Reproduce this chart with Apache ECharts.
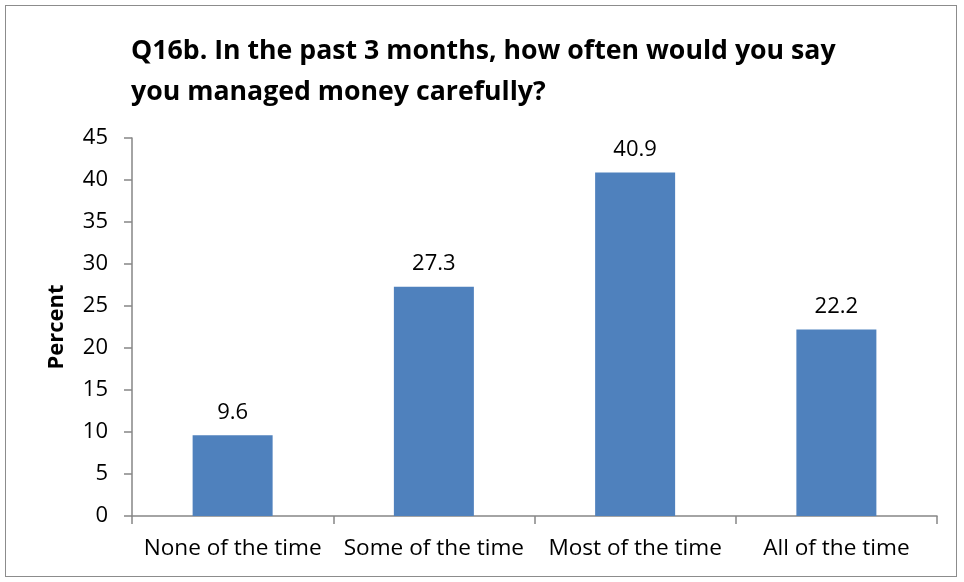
<!DOCTYPE html>
<html>
<head>
<meta charset="utf-8">
<script src="https://cdn.jsdelivr.net/npm/echarts@6/dist/echarts.min.js"></script>
<style>
  html, body { margin: 0; padding: 0; background: #fff; }
  #frame { position: absolute; left: 5px; top: 5px; width: 952px; height: 572px; border: 1px solid #8c8c8c; box-sizing: border-box; }
  #chart { position: absolute; left: 0; top: 0; width: 964px; height: 582px; }
</style>
</head>
<body>
<div id="frame"></div>
<div id="chart"></div>
<script>
  "use strict";

  const categories = ["None of the time", "Some of the time", "Most of the time", "All of the time"];
  const percents = [9.6, 27.3, 40.9, 22.2];
  const FONT = "'Open Sans', 'Noto Sans', sans-serif";
  const AXIS = "#868686";

  const chart = echarts.init(document.getElementById("chart"));
  chart.setOption({
    animation: false,
    textStyle: { fontFamily: FONT },
    title: {
      text: "Q16b. In the past 3 months, how often would you say\nyou managed money carefully?",
      left: 126,
      top: 26,
      textStyle: { fontSize: 26.7, fontWeight: "bold", color: "#000", lineHeight: 41, fontFamily: FONT },
    },
    grid: { left: 132, right: 27, top: 138, bottom: 66 },
    xAxis: {
      type: "category",
      data: categories,
      axisLine: { lineStyle: { color: AXIS, width: 1.5 } },
      axisTick: { show: true, length: 8, lineStyle: { color: AXIS, width: 1.5 } },
      axisLabel: { color: "#000", fontSize: 22.6, margin: 21, interval: 0 },
    },
    yAxis: {
      type: "value",
      min: 0,
      max: 45,
      interval: 5,
      name: "Percent",
      nameLocation: "middle",
      nameGap: 64,
      nameTextStyle: { color: "#000", fontSize: 22, fontWeight: "bold" },
      axisLine: { show: true, lineStyle: { color: AXIS, width: 1.5 } },
      axisTick: { show: true, length: 8, lineStyle: { color: AXIS, width: 1.5 } },
      splitLine: { show: false },
      axisLabel: { color: "#000", fontSize: 22, margin: 24 },
    },
    series: [{
      type: "bar",
      data: percents,
      barWidth: 80,
      itemStyle: { color: "#4f81bd" },
      label: { show: true, position: "top", distance: 12, color: "#000", fontSize: 22, formatter: (p) => p.value.toFixed(1) },
    }],
  });
</script>
</body>
</html>
